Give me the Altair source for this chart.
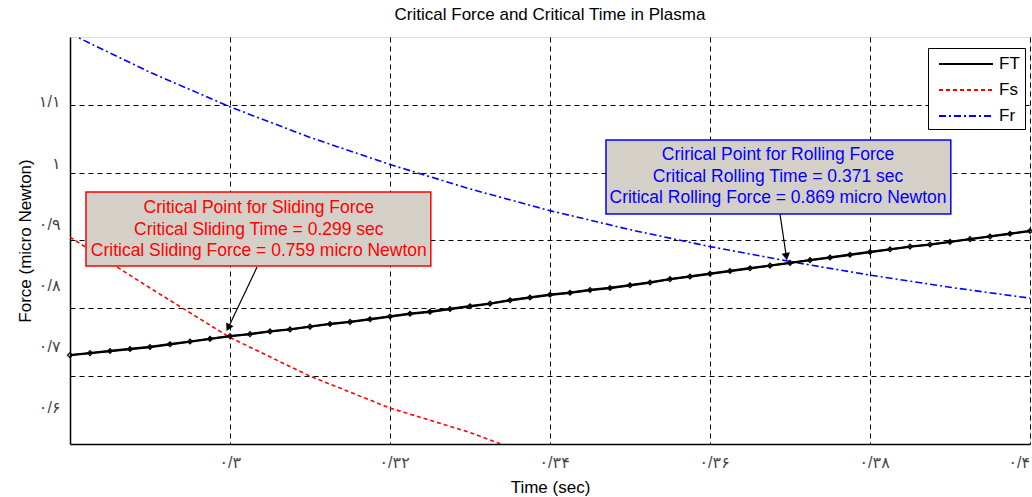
import altair as alt
import pandas as pd

# ---------------- data ----------------
series_names = ["FT", "Fs", "Fr"]

time_ft = [round(0.28 + 0.0025 * i, 4) for i in range(49)]
force_ft = [0.731, 0.734, 0.737, 0.740, 0.743, 0.747, 0.751, 0.755, 0.759,
            0.762, 0.766, 0.769, 0.773, 0.777, 0.780, 0.784, 0.788, 0.792,
            0.795, 0.799, 0.803, 0.807, 0.812, 0.816, 0.820, 0.823, 0.827,
            0.830, 0.834, 0.838, 0.843, 0.847, 0.851, 0.855, 0.859, 0.863,
            0.867, 0.871, 0.875, 0.879, 0.883, 0.887, 0.891, 0.894, 0.898,
            0.902, 0.906, 0.910, 0.914]

time_fs = [0.28, 0.29, 0.30, 0.31, 0.32, 0.33, 0.34]
force_fs = [0.905, 0.830, 0.757, 0.700, 0.653, 0.617, 0.573]

time_fr = [0.28, 0.29, 0.30, 0.31, 0.32, 0.33, 0.34, 0.35, 0.36, 0.37, 0.38, 0.39, 0.40]
force_fr = [1.205, 1.148, 1.097, 1.052, 1.012, 0.976, 0.944, 0.916, 0.891, 0.869,
            0.849, 0.831, 0.815]

x_tick_values = [0.30, 0.32, 0.34, 0.36, 0.38, 0.40]
x_tick_labels = ["۰/۳", "۰/۳۲", "۰/۳۴", "۰/۳۶", "۰/۳۸", "۰/۴"]
y_grid_values = [0.7, 0.8, 0.9, 1.0, 1.1]
y_tick_values = [0.6, 0.7, 0.8, 0.9, 1.0, 1.1]
y_tick_labels = ["۰/۶", "۰/۷", "۰/۸", "۰/۹", "۱", "۱/۱"]

slide_time, slide_force = 0.299, 0.759
roll_time, roll_force = 0.371, 0.869

slide_text = ("Critical Point for Sliding Force\n"
              f"Critical Sliding Time = {slide_time} sec\n"
              f"Critical Sliding Force = {slide_force} micro Newton")
roll_text = ("Crirical Point for Rolling Force\n"
             f"Critical Rolling Time = {roll_time} sec\n"
             f"Critical Rolling Force = {roll_force} micro Newton")

# ---------------- tables ----------------
rows = []
for t, v in zip(time_ft, force_ft):
    rows.append({"t": t, "f": v, "s": "FT"})
for t, v in zip(time_fs, force_fs):
    rows.append({"t": t, "f": v, "s": "Fs"})
for t, v in zip(time_fr, force_fr):
    rows.append({"t": t, "f": v, "s": "Fr"})
df = pd.DataFrame(rows)
df_ft = df[df.s == "FT"]
one = pd.DataFrame({"k": [0]})

FONT = "Liberation Sans, Arial, DejaVu Sans"
TXT = 17

x_expr = "[" + ",".join(f"'{l}'" for l in x_tick_labels) + "][round(datum.value*50)-15]"
y_expr = "[" + ",".join(f"'{l}'" for l in y_tick_labels) + "][round(datum.value*10)-6]"

x_scale = alt.Scale(domain=[0.28, 0.40], nice=False, zero=False)
y_scale = alt.Scale(domain=[0.6, 1.2], nice=False, zero=False)

x_enc = alt.X("t:Q", scale=x_scale, axis=alt.Axis(
    values=x_tick_values, labelExpr=x_expr, grid=True, gridDash=[5, 4],
    gridColor="black", gridOpacity=1, gridWidth=1, domainColor="black",
    domainWidth=1.5,
    ticks=False, labelPadding=10, labelAlign="left",
    labelOffset={"condition": {"test": "datum.value > 0.399", "value": -22}, "value": -11},
    labelFont=FONT, labelFontSize=16, labelColor="#444",
    title="Time (sec)", titleFont=FONT, titleFontSize=TXT,
    titleFontWeight="normal", titlePadding=9, titleColor="black"))
y_enc = alt.Y("f:Q", scale=y_scale, axis=alt.Axis(
    values=y_grid_values, grid=True, gridDash=[5, 4], gridColor="black",
    gridOpacity=1, gridWidth=1, labels=False, ticks=False,
    domainColor="black", domainWidth=1.5, title=None))

lines = alt.Chart(df).mark_line(clip=True, strokeWidth=1.6).encode(
    x=x_enc, y=y_enc,
    color=alt.Color("s:N", scale=alt.Scale(domain=series_names,
                                           range=["black", "#FF0000", "#0000FF"]),
                    title=None,
                    legend=alt.Legend(orient="none", legendX=858, legendY=11,
                                      fillColor="white", strokeColor="black",
                                      padding=5, symbolType="M-0.5,0H4.9",
                                      symbolSize=400, symbolStrokeWidth=2,
                                      labelFont=FONT, labelFontSize=TXT,
                                      labelExpr="datum.label + ' '",
                                      rowPadding=7, labelOffset=44)),
    strokeDash=alt.StrokeDash("s:N", scale=alt.Scale(domain=series_names,
                                                     range=[[1, 0], [4, 3], [7, 3, 2, 3]]),
                              title=None),
    detail="s:N",
)
ft_thick = alt.Chart(df_ft).mark_line(clip=True, strokeWidth=2.4, color="black").encode(
    x="t:Q", y="f:Q")
ft_points = alt.Chart(df_ft).mark_point(shape="diamond", size=24, filled=False,
                                         color="black", strokeWidth=1.2, opacity=1).encode(
    x="t:Q", y="f:Q")

BOX = "#D4D0C8"
slide_box = alt.Chart(one).mark_rect(fill=BOX, stroke="#FF0000", strokeWidth=1.5).encode(
    x=alt.datum(0.2820), x2=alt.datum(0.3251), y=alt.datum(0.9714), y2=alt.datum(0.8624))
slide_lbl = alt.Chart(one).mark_text(text=slide_text, lineBreak="\n", lineHeight=21.5,
                                      color="#FF0000", font=FONT, fontSize=17.5,
                                      align="center", baseline="middle").encode(
    x=alt.datum(0.3036), y=alt.datum(0.9478))
slide_arrow = alt.Chart(one).mark_rule(color="black", strokeWidth=1.2).encode(
    x=alt.datum(0.30338), y=alt.datum(0.8608), x2=alt.datum(0.29978), y2=alt.datum(0.7715))
slide_head = alt.Chart(one).mark_point(shape="triangle-up", size=70, filled=True,
                                        color="black", opacity=1, angle=206).encode(
    x=alt.datum(0.29978), y=alt.datum(0.7715))

roll_box = alt.Chart(one).mark_rect(fill=BOX, stroke="#0000FF", strokeWidth=1.5).encode(
    x=alt.datum(0.3470), x2=alt.datum(0.3901), y=alt.datum(1.048), y2=alt.datum(0.939))
roll_lbl = alt.Chart(one).mark_text(text=roll_text, lineBreak="\n", lineHeight=21.5,
                                     color="#0000FF", font=FONT, fontSize=17.5,
                                     align="center", baseline="middle").encode(
    x=alt.datum(0.3685), y=alt.datum(1.026))
roll_arrow = alt.Chart(one).mark_rule(color="black", strokeWidth=1.2).encode(
    x=alt.datum(0.36875), y=alt.datum(0.9389), x2=alt.datum(0.36954), y2=alt.datum(0.8763))
roll_head = alt.Chart(one).mark_point(shape="triangle-up", size=70, filled=True,
                                       color="black", opacity=1, angle=171).encode(
    x=alt.datum(0.36954), y=alt.datum(0.8763))

main = alt.layer(lines, ft_thick, ft_points, slide_arrow, slide_head, slide_box,
                 slide_lbl, roll_arrow, roll_head, roll_box, roll_lbl)

label_layer = alt.Chart(one).mark_point(opacity=0).encode(
    x=alt.datum(0.3),
    y=alt.Y("k:Q", scale=alt.Scale(domain=[0.541, 1.206], nice=False, zero=False),
            axis=alt.Axis(orient="left", values=y_tick_values, labelExpr=y_expr,
                          grid=False, domain=False, ticks=False, labelPadding=10,
                          labelFont=FONT, labelFontSize=16, labelColor="#444",
                          title="Force (micro Newton)", titleFont=FONT,
                          titleFontSize=TXT, titleFontWeight="normal",
                          titlePadding=4, titleColor="black")))

chart = alt.layer(main, label_layer).resolve_scale(y="independent").properties(
    width=960, height=407,
    title=alt.TitleParams("Critical Force and Critical Time in Plasma",
                          font=FONT, fontSize=TXT, fontWeight="normal",
                          color="black", offset=13),
    autosize=alt.AutoSizeParams(type="none"),
    padding={"left": 70, "top": 37, "right": 2, "bottom": 53},
).configure_view(stroke="black", strokeWidth=1.5).configure(background="white")

chart.save("out.html", embed_options={"renderer": "svg", "actions": False})
